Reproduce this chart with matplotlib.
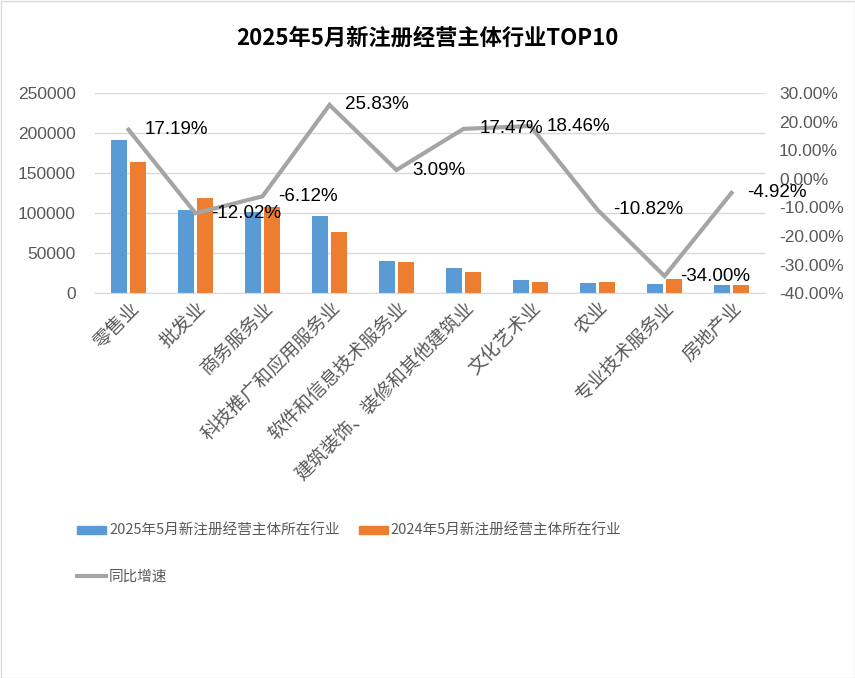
import matplotlib
matplotlib.use("Agg")
import matplotlib.pyplot as plt
import numpy as np
from matplotlib.patches import Rectangle, Patch
from matplotlib.lines import Line2D

plt.rcParams['font.family'] = ['Noto Sans CJK SC', 'DejaVu Sans']

categories = ["零售业", "批发业", "商务服务业", "科技推广和应用服务业", "软件和信息技术服务业",
              "建筑装饰、装修和其他建筑业", "文化艺术业", "农业", "专业技术服务业", "房地产业"]
v2025 = [191500, 104500, 101500, 96800, 40600, 31600, 16600, 12400, 11800, 10400]
v2024 = [163500, 119000, 108200, 76800, 39400, 26900, 14000, 13900, 17900, 10900]
growth = [17.19, -12.02, -6.12, 25.83, 3.09, 17.47, 18.46, -10.82, -34.00, -4.92]
growth_labels = ["17.19%", "-12.02%", "-6.12%", "25.83%", "3.09%", "17.47%", "18.46%",
                 "-10.82%", "-34.00%", "-4.92%"]
left_ticks = [0, 50000, 100000, 150000, 200000, 250000]
right_ticks = [-40, -30, -20, -10, 0, 10, 20, 30]

blue = "#5B9BD5"
orange = "#ED7D31"
gray = "#A5A5A5"
txt = "#595959"

fig = plt.figure(figsize=(8.55, 6.78), dpi=100)
ax = fig.add_axes([95/855, 1-293.3/678, (765-95)/855, 200.3/678])
x = np.arange(len(categories))
w = 0.225
ax.bar(x - 0.142, v2025, w, color=blue, zorder=2)
ax.bar(x + 0.142, v2024, w, color=orange, zorder=2)
ax.set_xlim(-0.5, len(categories) - 0.5)
ax.set_ylim(0, 250000)
ax.set_yticks(left_ticks)
ax.set_yticklabels([str(t) for t in left_ticks], fontsize=12.5, color=txt, family='Liberation Sans')
ax.yaxis.grid(True, color="#D9D9D9", lw=1, zorder=0)
ax.set_axisbelow(True)
for s in ["top", "right", "left"]:
    ax.spines[s].set_visible(False)
ax.spines["bottom"].set_color("#D9D9D9")
ax.tick_params(axis='both', length=0)
ax.tick_params(axis='y', pad=14)
ax.set_xticks(x)
ax.set_xticklabels(categories, rotation=45, ha='right', rotation_mode='anchor',
                   fontsize=13.5, color=txt)
ax.tick_params(axis='x', pad=3)

ax2 = ax.twinx()
ax2.plot(x, growth, color=gray, lw=3, solid_joinstyle='miter', zorder=3)
ax2.set_ylim(-40, 30)
ax2.set_yticks(right_ticks)
ax2.set_yticklabels([f"{t:.2f}%" for t in right_ticks], fontsize=12.5, color=txt,
                    family='Liberation Sans')
ax2.tick_params(axis='y', length=0, pad=10)
for s in ["top", "right", "left", "bottom"]:
    ax2.spines[s].set_visible(False)
for xi, g, lab in zip(x, growth, growth_labels):
    ax2.annotate(lab, (xi, g), xytext=(11.5, 0), textcoords='offset points',
                 ha='left', va='center', fontsize=13.5, color='#000000',
                 family='Liberation Sans', zorder=4)

fig.text(0.5, 1 - 38/678, "2025年5月新注册经营主体行业TOP10", ha='center', va='center',
         fontsize=16, fontweight='bold', color='#000000')

handles = [Patch(color=blue), Line2D([0], [0], color=gray, lw=3),
           Patch(color=orange)]
labels = ["2025年5月新注册经营主体所在行业", "同比增速", "2024年5月新注册经营主体所在行业"]
fig.legend(handles, labels, loc='upper left', bbox_to_anchor=(77/855, 1 - 524/678),
           ncol=2, frameon=False, fontsize=10.5, labelcolor=txt, handlelength=2.0,
           handleheight=0.55, handletextpad=0.2, columnspacing=1.3, labelspacing=2.15,
           borderpad=0, borderaxespad=0)

fig.add_artist(Rectangle((0.5/855, 0.5/678), 1 - 1/855, 1 - 1/678, transform=fig.transFigure,
                         fill=False, edgecolor="#D9D9D9", lw=1))
fig.savefig("out.png", dpi=100)
